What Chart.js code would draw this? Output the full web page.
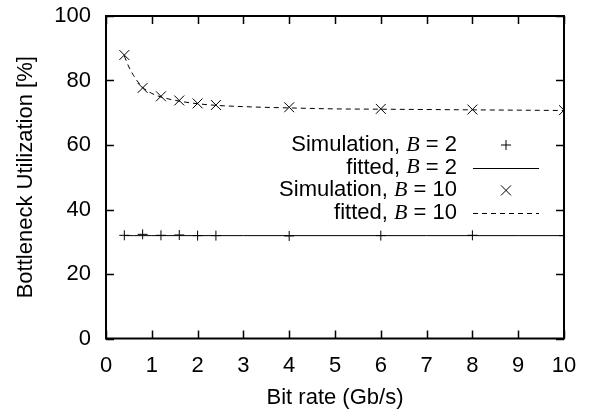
<!DOCTYPE html>
<html>
<head>
<meta charset="utf-8">
<script src="https://cdn.jsdelivr.net/npm/chart.js@4/dist/chart.umd.min.js"></script>
<style>
  html, body { margin: 0; padding: 0; background: #fff; }
  #wrap { width: 592px; height: 416px; }
</style>
</head>
<body>
<div id="wrap"><canvas id="chart" width="592" height="416"></canvas></div>
<script>
// simulation points (bit rate, Gb/s)
const simX = [0.4, 0.8, 1.2, 1.6, 2.0, 2.4, 4, 6, 8, 10];
const simB2 = [32.0, 32.3, 32.0, 32.1, 31.9, 31.9, 31.8, 31.9, 32.0, 31.9];
const simB10 = [87.9, 77.7, 75.1, 73.8, 72.9, 72.4, 71.7, 71.2, 71.0, 70.8];

// fitted curves
const fitX = [0.4, 0.5, 0.6, 0.7, 0.8, 1.0, 1.2, 1.6, 2.0, 2.4, 3, 4, 5, 6, 7, 8, 9, 10];
const fitB2 = [31.9, 31.9, 31.9, 31.9, 31.9, 31.9, 31.9, 31.9, 31.9, 31.9, 31.9, 31.9, 31.9, 31.9, 31.9, 31.9, 31.9, 31.9];
const fitB10 = [87.6, 84.2, 81.6, 79.5, 77.9, 76.0, 74.9, 73.6, 72.8, 72.3, 71.9, 71.5, 71.2, 71.1, 71.0, 70.9, 70.8, 70.7];

const xTicks = [0, 1, 2, 3, 4, 5, 6, 7, 8, 9, 10];
const yTicks = [0, 20, 40, 60, 80, 100];

const legendRows = [
    { pre: 'Simulation, ', val: ' = 2', kind: 'cross' },
    { pre: 'fitted, ', val: ' = 2', kind: 'solid' },
    { pre: 'Simulation, ', val: ' = 10', kind: 'crossRot' },
    { pre: 'fitted, ', val: ' = 10', kind: 'dash' }
];

const SANS = "'Liberation Sans', Arial, sans-serif";
const FS = 22;

const pts = (xs, ys) => xs.map((x, i) => ({ x, y: ys[i] }));

// border box + inward mirrored ticks
const framePlugin = {
    id: 'frame',
    beforeDatasetsDraw(chart) {
        const { ctx, chartArea: a, scales } = chart;
        const tl = 8;
        ctx.save();
        ctx.strokeStyle = '#000';
        ctx.lineWidth = 1.5;
        ctx.beginPath();
        xTicks.forEach(v => {
            const px = Math.round(scales.x.getPixelForValue(v)) + 0.5;
            ctx.moveTo(px, a.bottom); ctx.lineTo(px, a.bottom - tl);
            ctx.moveTo(px, a.top); ctx.lineTo(px, a.top + tl);
        });
        yTicks.forEach(v => {
            const py = Math.round(scales.y.getPixelForValue(v)) + 0.5;
            ctx.moveTo(a.left, py); ctx.lineTo(a.left + tl, py);
            ctx.moveTo(a.right, py); ctx.lineTo(a.right - tl, py);
        });
        ctx.stroke();
        ctx.lineWidth = 2;
        ctx.strokeRect(a.left, a.top, a.right - a.left, a.bottom - a.top);
        ctx.restore();
    }
};

// gnuplot style key: right aligned text, sample to the right
const keyPlugin = {
    id: 'key',
    afterDatasetsDraw(chart) {
        const ctx = chart.ctx;
        const textRight = 457;
        const sx0 = 473, sx1 = 539;
        const mid = (sx0 + sx1) / 2;
        ctx.save();
        ctx.fillStyle = '#000';
        ctx.strokeStyle = '#000';
        ctx.textBaseline = 'middle';
        legendRows.forEach((row, i) => {
            const y = 145 + i * 22.7;
            const sansF = FS + 'px ' + SANS;
            const italF = 'italic ' + FS + "px 'Liberation Serif', serif";
            ctx.font = sansF;
            const wVal = ctx.measureText(row.val).width;
            const wPre = ctx.measureText(row.pre).width;
            ctx.font = italF;
            const wB = ctx.measureText('B').width;
            let x = textRight - wVal - wB - wPre;
            ctx.textAlign = 'left';
            ctx.font = sansF;
            ctx.fillText(row.pre, x, y);
            ctx.font = italF;
            ctx.fillText('B', x + wPre, y);
            ctx.font = sansF;
            ctx.fillText(row.val, x + wPre + wB, y);

            ctx.lineWidth = 1;
            ctx.beginPath();
            if (row.kind === 'cross') {
                ctx.moveTo(mid - 5, y); ctx.lineTo(mid + 5, y);
                ctx.moveTo(mid, y - 5); ctx.lineTo(mid, y + 5);
                ctx.stroke();
            } else if (row.kind === 'crossRot') {
                ctx.moveTo(mid - 5, y - 5); ctx.lineTo(mid + 5, y + 5);
                ctx.moveTo(mid - 5, y + 5); ctx.lineTo(mid + 5, y - 5);
                ctx.stroke();
            } else {
                if (row.kind === 'dash') ctx.setLineDash([5, 4]);
                ctx.moveTo(sx0, Math.round(y) + 0.5); ctx.lineTo(sx1, Math.round(y) + 0.5);
                ctx.stroke();
                ctx.setLineDash([]);
            }
        });
        ctx.restore();
    }
};

new Chart(document.getElementById('chart'), {
    type: 'scatter',
    data: {
        datasets: [
            {
                label: 'Simulation, B = 2',
                data: pts(simX, simB2),
                pointStyle: 'cross',
                pointRadius: 5,
                borderColor: '#000',
                borderWidth: 1,
                backgroundColor: '#000'
            },
            {
                label: 'fitted, B = 2',
                data: pts(fitX, fitB2),
                showLine: true,
                pointRadius: 0,
                borderColor: '#000',
                borderWidth: 1
            },
            {
                label: 'Simulation, B = 10',
                data: pts(simX, simB10),
                pointStyle: 'crossRot',
                pointRadius: 7,
                borderColor: '#000',
                borderWidth: 1,
                backgroundColor: '#000'
            },
            {
                label: 'fitted, B = 10',
                data: pts(fitX, fitB10),
                showLine: true,
                pointRadius: 0,
                borderColor: '#000',
                borderWidth: 1,
                borderDash: [5, 4],
                cubicInterpolationMode: 'monotone'
            }
        ]
    },
    options: {
        responsive: false,
        animation: false,
        layout: { padding: { top: 16, right: 28, left: 0, bottom: 0 } },
        scales: {
            x: {
                type: 'linear',
                min: 0,
                max: 10,
                afterFit: s => { s.height = 77.5; s.paddingLeft = 0; s.paddingRight = 0; },
                afterBuildTicks: s => { s.ticks = xTicks.map(v => ({ value: v })); },
                grid: { display: false, drawTicks: false },
                border: { display: false },
                ticks: { color: '#000', padding: 14, font: { family: SANS, size: FS }, maxRotation: 0 },
                title: {
                    display: true,
                    text: 'Bit rate (Gb/s)',
                    color: '#000',
                    font: { family: SANS, size: FS },
                    padding: { top: 0, bottom: 5 }
                }
            },
            y: {
                type: 'linear',
                min: 0,
                max: 100,
                afterFit: s => { s.width = 106; s.paddingTop = 0; s.paddingBottom = 0; },
                afterBuildTicks: s => { s.ticks = yTicks.map(v => ({ value: v })); },
                grid: { display: false, drawTicks: false },
                border: { display: false },
                ticks: { color: '#000', padding: 15, font: { family: SANS, size: FS } },
                title: {
                    display: true,
                    text: 'Bottleneck Utilization [%]',
                    color: '#000',
                    font: { family: SANS, size: FS },
                    padding: { top: 13, bottom: 0 }
                }
            }
        },
        plugins: {
            legend: { display: false },
            tooltip: { enabled: false }
        }
    },
    plugins: [framePlugin, keyPlugin]
});
</script>
</body>
</html>
